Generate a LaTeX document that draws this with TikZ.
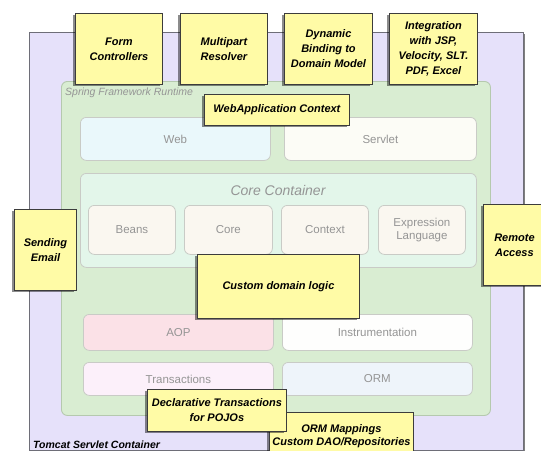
\documentclass[tikz,border=0pt]{standalone}
\usepackage{fontspec}
\setmainfont{Liberation Sans}
\usetikzlibrary{shadows}
\definecolor{outerfill}{HTML}{E6E1FA}
\definecolor{outerdraw}{HTML}{6E6E78}
\definecolor{greenfill}{HTML}{D9EDD2}
\definecolor{greendraw}{HTML}{B5C9AE}
\definecolor{corefill}{HTML}{E3F6EA}
\definecolor{webfill}{HTML}{EAF8FB}
\definecolor{servletfill}{HTML}{FCFCF6}
\definecolor{beanfill}{HTML}{FAF7F0}
\definecolor{aopfill}{HTML}{FBE1E7}
\definecolor{instrfill}{HTML}{FEFEFD}
\definecolor{transfill}{HTML}{FCF0FA}
\definecolor{ormfill}{HTML}{EEF4FA}
\definecolor{innerdraw}{HTML}{C9CBC6}
\definecolor{innertext}{HTML}{959595}
\definecolor{yfill}{HTML}{FFFBA6}
\definecolor{ydraw}{HTML}{3C3C3C}
\tikzset{
  ybox/.style={draw=ydraw, line width=0.9pt, fill=yfill, anchor=north west, inner sep=0pt,
    align=center, font=\fontsize{11}{15}\selectfont\bfseries\itshape,
    drop shadow={shadow xshift=-2pt, shadow yshift=-2pt, opacity=0.45, fill=black}},
  ibox/.style={draw=innerdraw, line width=0.8pt, rounded corners=6pt, anchor=north west, inner sep=0pt,
    align=center, text=innertext, font=\fontsize{11.5}{13.5}\selectfont},
}
\begin{document}
\begin{tikzpicture}[x=1pt,y=-1pt]
\useasboundingbox (0,0) rectangle (541,450);
\fill[white] (0,0) rectangle (541,450);
% outer container
\node[draw=outerdraw, line width=0.9pt, fill=outerfill, anchor=north west, inner sep=0pt,
  minimum width=494pt, minimum height=418pt,
  drop shadow={shadow xshift=1.5pt, shadow yshift=-1.5pt, opacity=0.5, fill=black}] (tomcatbox) at (29,32) {};
\node[anchor=base west, inner sep=0pt, font=\fontsize{10.5}{12}\selectfont\bfseries\itshape] (tomcat) at (33,448) {Tomcat Servlet Container};
% spring runtime
\node[draw=greendraw, line width=0.9pt, fill=greenfill, rounded corners=6pt, anchor=north west, inner sep=0pt,
  minimum width=429pt, minimum height=334pt] (spring) at (61,81) {};
\node[anchor=base west, inner sep=0pt, text=innertext, font=\fontsize{10.5}{12}\selectfont\itshape] (springlbl) at (65,95) {Spring Framework Runtime};
% web row
\node[ibox, fill=webfill, minimum width=190pt, minimum height=43pt] (web) at (80,117) {Web};
\node[ibox, fill=servletfill, minimum width=192pt, minimum height=43pt] (servlet) at (284,117) {Servlet};
% core container
\node[draw=innerdraw, line width=0.8pt, fill=corefill, rounded corners=6pt, anchor=north west, inner sep=0pt,
  minimum width=396pt, minimum height=94pt] (core) at (80,173) {};
\node[inner sep=0pt, text=innertext, font=\fontsize{14}{16}\selectfont\itshape] (corelbl) at (278,190) {Core Container};
\node[ibox, fill=beanfill, minimum width=87pt, minimum height=49pt] (beans) at (88,205) {Beans};
\node[ibox, fill=beanfill, minimum width=88pt, minimum height=49pt] (corem) at (184,205) {Core};
\node[ibox, fill=beanfill, minimum width=87pt, minimum height=49pt] (context) at (281,205) {Context};
\node[ibox, fill=beanfill, minimum width=87pt, minimum height=49pt] (expr) at (378,205) {Expression\\Language};
% lower rows
\node[ibox, fill=aopfill, minimum width=190pt, minimum height=36pt] (aop) at (83,314) {AOP};
\node[ibox, fill=instrfill, minimum width=190pt, minimum height=36pt] (instr) at (282,314) {Instrumentation};
\node[ibox, fill=transfill, minimum width=190pt, minimum height=33pt] (trans) at (83,362) {Transactions};
\node[ibox, fill=ormfill, minimum width=190pt, minimum height=33pt] (orm) at (282,362) {ORM};
% yellow notes
\node[ybox, minimum width=87pt, minimum height=71pt] (form) at (75,13) {Form\\Controllers};
\node[ybox, minimum width=87pt, minimum height=71pt] (multi) at (180,13) {Multipart\\Resolver};
\node[ybox, minimum width=88pt, minimum height=71pt] (binding) at (284,13) {Dynamic\\Binding to\\Domain Model};
\node[ybox, minimum width=88pt, minimum height=71pt] (integ) at (389,13) {Integration\\with JSP,\\Velocity, SLT.\\PDF, Excel};
\node[ybox, minimum width=145pt, minimum height=31pt] (webapp) at (204,94) {WebApplication Context};
\node[ybox, minimum width=62pt, minimum height=81pt] (email) at (14,209) {Sending\\Email};
\node[ybox, minimum width=62pt, minimum height=81pt] (remote) at (483,204) {Remote\\Access};
\node[ybox, minimum width=162pt, minimum height=64pt] (domain) at (197,254) {Custom domain logic};
\node[ybox, minimum width=144pt, minimum height=47pt, font=\fontsize{11}{13.5}\selectfont\bfseries\itshape] (ormmap) at (269,412) {ORM Mappings\\Custom DAO/Repositories};
\node[ybox, minimum width=139pt, minimum height=42pt] (decl) at (147,389) {Declarative Transactions\\for POJOs};
\end{tikzpicture}
\end{document}
